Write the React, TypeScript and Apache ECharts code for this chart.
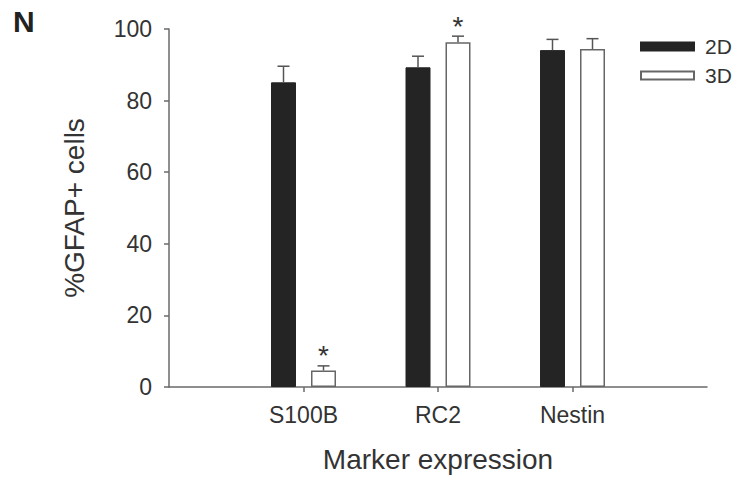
import React, { useEffect, useRef } from "react";
import * as echarts from "echarts";

const categories = [" ", "S100B", "RC2", "Nestin", "  "];
const seriesNames = ["2D", "3D"];
const values2D = [null, 85.1, 89.3, 94.1, null];
const values3D = [null, 4.6, 96.3, 94.4, null];
const err2D = [null, 4.5, 3.1, 3.0, null];
const err3D = [null, 1.3, 1.7, 2.9, null];
const sig2D = [false, false, false, false, false];
const sig3D = [false, true, true, false, false];
const yTicks = { min: 0, max: 100, interval: 20 };

const BAR_WIDTH = 25;
const BAR_GAP = 0.6;
const FONT = "'Liberation Sans', Arial, Helvetica, sans-serif";
const TEXT = "#333333";
const AXIS = "#6a6a6a";

export default function App() {
  const ref = useRef<HTMLDivElement>(null);
  useEffect(() => {
    document.body.style.margin = "0";
    const chart = echarts.init(ref.current!, null, { renderer: "svg" });
    const errRows: any[] = [];
    [values2D, values3D].forEach((vals, s) => {
      const errs = s === 0 ? err2D : err3D;
      const sigs = s === 0 ? sig2D : sig3D;
      vals.forEach((v, i) => {
        if (v != null) errRows.push([i, v, errs[i], sigs[i] ? 1 : 0, s]);
      });
    });
    const offset = (BAR_WIDTH + BAR_WIDTH * BAR_GAP) / 2;
    chart.setOption({
      animation: false,
      textStyle: { fontFamily: FONT },
      grid: { left: 169, right: 27, top: 29, bottom: 92 },
      legend: {
        data: seriesNames,
        orient: "vertical",
        left: 635,
        top: 31,
        icon: "rect",
        itemWidth: 53,
        itemHeight: 8,
        itemGap: 8,
        textStyle: { fontSize: 21, color: TEXT, fontFamily: FONT, padding: [0, 0, 0, 6] },
      },
      graphic: [
        {
          type: "text",
          left: 13,
          top: 6,
          style: { text: "N", font: `bold 30px ${FONT}`, fill: "#222" },
        },
      ],
      xAxis: {
        type: "category",
        data: categories,
        boundaryGap: false,
        name: "Marker expression",
        nameLocation: "middle",
        nameGap: 58,
        nameTextStyle: { fontSize: 28, color: TEXT, fontFamily: FONT },
        axisLine: { lineStyle: { color: AXIS, width: 1.5 } },
        axisTick: {
          length: 5,
          interval: (idx: number) => idx > 0 && idx < categories.length - 1,
          lineStyle: { color: AXIS, width: 1.5 },
        },
        axisLabel: {
          interval: 0,
          fontSize: 23,
          color: TEXT,
          margin: 16,
          fontFamily: FONT,
        },
        splitLine: { show: false },
      },
      yAxis: {
        type: "value",
        min: yTicks.min,
        max: yTicks.max,
        interval: yTicks.interval,
        name: "%GFAP+ cells",
        nameLocation: "middle",
        nameGap: 81,
        nameTextStyle: { fontSize: 28, color: TEXT, fontFamily: FONT },
        axisLine: { show: true, lineStyle: { color: AXIS, width: 1.5 } },
        axisTick: { show: true, length: 5, lineStyle: { color: AXIS, width: 1.5 } },
        axisLabel: { fontSize: 23, color: TEXT, margin: 17, fontFamily: FONT },
        splitLine: { show: false },
      },
      series: [
        {
          name: "2D",
          type: "bar",
          data: values2D,
          barWidth: BAR_WIDTH,
          barGap: `${BAR_GAP * 100}%`,
          itemStyle: { color: "#242424", borderColor: "#242424", borderWidth: 1 },
        },
        {
          name: "3D",
          type: "bar",
          data: values3D,
          barWidth: BAR_WIDTH,
          barGap: `${BAR_GAP * 100}%`,
          itemStyle: { color: "#ffffff", borderColor: "#666666", borderWidth: 1.5 },
        },
        {
          type: "custom",
          data: errRows,
          z: 5,
          renderItem: (params: any, api: any) => {
            const cat = api.value(0);
            const v = api.value(1);
            const e = api.value(2);
            const sig = api.value(3);
            const s = api.value(4);
            const base = api.coord([cat, v]);
            const top = api.coord([cat, v + e]);
            const x = base[0] + (s === 0 ? -offset : offset);
            const half = 6;
            const style = { stroke: "#555555", lineWidth: 1.5 };
            const children: any[] = [
              { type: "line", shape: { x1: x, y1: base[1], x2: x, y2: top[1] }, style },
              { type: "line", shape: { x1: x - half, y1: top[1], x2: x + half, y2: top[1] }, style },
            ];
            if (sig) {
              children.push({
                type: "text",
                style: {
                  text: "*",
                  x,
                  y: top[1] + 4,
                  textAlign: "center",
                  textVerticalAlign: "bottom",
                  font: `28px ${FONT}`,
                  fill: TEXT,
                },
              });
            }
            return { type: "group", children };
          },
        },
      ],
    });
    return () => chart.dispose();
  }, []);
  return <div ref={ref} style={{ width: 734, height: 479 }} />;
}
